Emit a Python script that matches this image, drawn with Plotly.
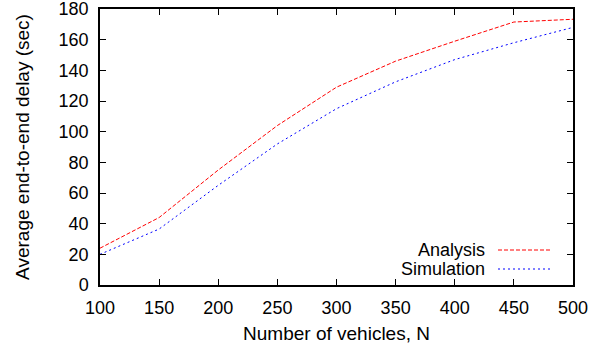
import plotly.graph_objects as go

# Number of vehicles on the road
vehicles = [100, 150, 200, 250, 300, 350, 400, 450, 500]
# Average end-to-end delay in seconds
analysis_delay = [24, 44, 75, 104, 129, 146, 159, 171.5, 173.3]
simulation_delay = [20, 36.5, 65, 92, 115, 132.5, 147, 158, 168]

x_ticks = [100, 150, 200, 250, 300, 350, 400, 450, 500]
y_ticks = [0, 20, 40, 60, 80, 100, 120, 140, 160, 180]

FONT = "Liberation Sans, Arial, Helvetica, sans-serif"

fig = go.Figure()
fig.add_trace(go.Scatter(
    x=vehicles, y=analysis_delay, mode="lines", name="Analysis",
    line=dict(color="#ff0000", width=1, dash="4px,2px"),
))
fig.add_trace(go.Scatter(
    x=vehicles, y=simulation_delay, mode="lines", name="Simulation",
    line=dict(color="#0000ff", width=1, dash="2px,3px"),
))

axis_common = dict(
    showgrid=False, zeroline=False, showline=True, linecolor="black",
    linewidth=1.5, mirror="allticks", ticks="inside", ticklen=6,
    tickcolor="black", tickwidth=1, ticklabelstandoff=6, automargin=False,
    ticklabeloverflow="allow",
    tickfont=dict(family=FONT, size=18, color="black"),
)

fig.update_layout(
    width=611, height=350,
    margin=dict(l=100, r=38, t=9, b=65),
    paper_bgcolor="white", plot_bgcolor="white",
    showlegend=False,
    font=dict(family=FONT, size=19, color="black"),
    xaxis=dict(
        range=[100, 500], tickvals=x_ticks,
        title=dict(text="Number of vehicles, N", standoff=9,
                   font=dict(family=FONT, size=19)),
        **axis_common,
    ),
    yaxis=dict(
        range=[0, 180], tickvals=y_ticks,
        title=dict(text="Average end-to-end delay (sec)", standoff=24,
                   font=dict(family=FONT, size=19)),
        **axis_common,
    ),
)

# Key: label on the left, line sample on the right
key = [("Analysis", "#ff0000", "4px,2px", 250),
       ("Simulation", "#0000ff", "2px,3px", 269)]
for label, color, dash, ypx in key:
    yfrac = 1 - (ypx - 9) / 276
    fig.add_annotation(
        xref="paper", yref="paper", x=(487 - 100) / 473, y=yfrac,
        text=label, showarrow=False, xanchor="right", yanchor="middle",
        font=dict(family=FONT, size=18, color="black"),
    )
    fig.add_shape(
        type="line", xref="paper", yref="paper",
        x0=(498 - 100) / 473, x1=(550 - 100) / 473, y0=yfrac, y1=yfrac,
        line=dict(color=color, width=1, dash=dash),
    )

fig.write_html("out.html")
